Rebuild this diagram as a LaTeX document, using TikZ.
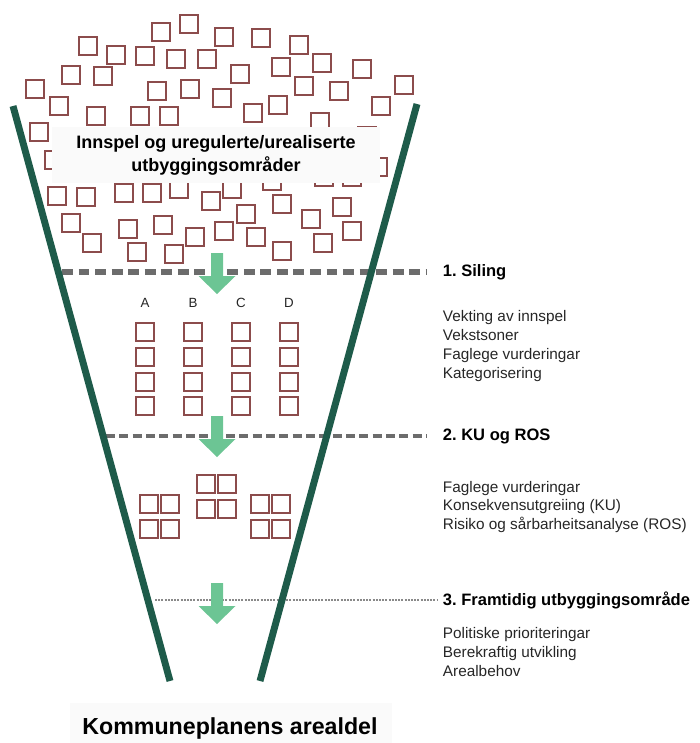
\documentclass[tikz,border=0pt]{standalone}
\usepackage{fontspec}
\setmainfont{Liberation Sans}
\usepackage{tikz}
\usetikzlibrary{arrows.meta}
\usetikzlibrary{positioning}
\definecolor{funnelgreen}{RGB}{30, 91, 74}
\definecolor{arrowgreen}{RGB}{108, 197, 148}
\definecolor{sitered}{RGB}{140, 76, 76}
\definecolor{cutgrey}{RGB}{108, 108, 108}
\definecolor{boxgrey}{RGB}{250, 250, 250}
\tikzset{
site/.style = { rectangle, draw = sitered, line width = 1.5pt, fill = none, minimum size = 12.8pt, inner sep = 0pt },
funnel/.style = { draw = funnelgreen, line width = 5.2pt },
cut one/.style = { draw = cutgrey, line width = 4.5pt, dash pattern = on 8.2pt off 4.2pt, shorten > = 10.5pt },
cut two/.style = { draw = cutgrey, line width = 3pt, dash pattern = on 6.7pt off 3.3pt, shorten > = 9.8pt },
cut three/.style = { draw = cutgrey!80, line width = 1.3pt, dash pattern = on 1.5pt off 0.9pt, shorten > = 2pt },
stage/.style = { anchor = west, inner sep = 2pt, font = \fontsize{12.4}{14}\selectfont\bfseries },
steps/.style = { anchor = west, inner sep = 2pt, align = left, text = black!85, font = \fontsize{11.5}{14.1}\selectfont },
column/.style = { inner sep = 0pt, text = black!85, font = \fontsize{10}{12}\selectfont },
banner/.style = { fill = boxgrey, inner sep = 0pt, align = center },
}
\tikzset{
pics/down arrow/.style = {
        code = {
        \path[fill = arrowgreen] (-6, 0) -- (6, 0) -- (6, 23) -- (18.5, 23) -- (0, 41) -- (-18.5, 23) -- (-6, 23) -- cycle;
        }
    }
}

\begin{document}
\frenchspacing
\begin{tikzpicture}[x = 0.75pt, y = -0.75pt]
      \useasboundingbox (0, 0) rectangle (700, 743);

      % innspel
      \foreach \x/\y in {161/32, 189/24, 224/37, 261/38, 299/45, 88/46, 116/55, 145/56, 176/59, 207/59,
                         240/74, 281/67, 322/63, 362/69, 404/85, 71/75, 103/76, 157/91, 190/89, 222/98,
                         304/86, 339/91, 35/89, 59/106, 381/106, 278/105, 253/113, 96/116, 140/116, 169/116,
                         320/122, 39/132, 367/136, 54/160, 378/167, 57/196, 86/197, 124/193, 152/193, 179/189,
                         211/201, 232/189, 272/181, 324/177, 352/177, 282/204, 342/207, 71/223, 92/243, 128/229,
                         163/225, 195/237, 224/231, 246/214, 256/237, 311/219, 352/231, 323/243, 282/251, 137/252,
                         174/254}
        \node[site] at (\x, \y) {};
      \node[banner, minimum width = 246pt, minimum height = 42pt, font = \fontsize{13.5}{17.2}\selectfont\bfseries] (intake) at (216, 155) {Innspel og uregulerte/urealiserte\\utbyggingsområder};

      % siling
      \foreach \name/\x in {A/145, B/193, C/241, D/289} {
        \node[column] (col\name) at (\x, 303) {\name};
        \foreach \y in {332, 357, 382, 406}
          \node[site] at (\x, \y) {};
      }

      % ku og ros
      \foreach \x/\y in {149/504, 206/484, 260/504} {
        \foreach \dx in {0, 21}
          \foreach \dy in {0, 25}
            \node[site] at (\x + \dx, \y + \dy) {};
      }

      \node[stage] (siling) at (440, 272) {1. Siling};
      \node[steps] (silingsteps) at (440, 346) {Vekting av innspel\\Vekstsoner\\Faglege vurderingar\\Kategorisering};
      \node[stage] (kuros) at (440, 436) {2. KU og ROS};
      \node[steps] (kurossteps) at (440, 507) {Faglege vurderingar\\Konsekvensutgreiing (KU)\\Risiko og sårbarheitsanalyse (ROS)};
      \node[stage] (framtid) at (440, 600) {3. Framtidig utbyggingsområde};
      \node[steps] (framtidsteps) at (440, 652) {Politiske prioriteringar\\Berekraftig utvikling\\Arealbehov};

      \coordinate (cut1) at (62, 272);
      \coordinate (cut2) at (106, 436);
      \coordinate (cut3) at (155, 600);
      \draw[cut one] (cut1) -- (siling.west);
      \draw[cut two] (cut2) -- (kuros.west);
      \draw[cut three] (cut3) -- (framtid.west);

      \draw (217, 253) pic{down arrow};
      \draw (217, 416) pic{down arrow};
      \draw (217, 583) pic{down arrow};

      \coordinate (left top) at (13, 106);
      \coordinate (left bottom) at (170, 681);
      \coordinate (right top) at (417, 104);
      \coordinate (right bottom) at (260, 681);
      \draw[funnel] (left top) -- (left bottom);
      \draw[funnel] (right top) -- (right bottom);

      \node[banner, minimum width = 241pt, minimum height = 40pt, anchor = north west] (result) at (70, 703) {};
      \node[inner sep = 0pt, font = \fontsize{17.4}{20}\selectfont\bfseries] (arealdel) at (230, 728) {Kommuneplanens arealdel};
    \end{tikzpicture}
\end{document}
